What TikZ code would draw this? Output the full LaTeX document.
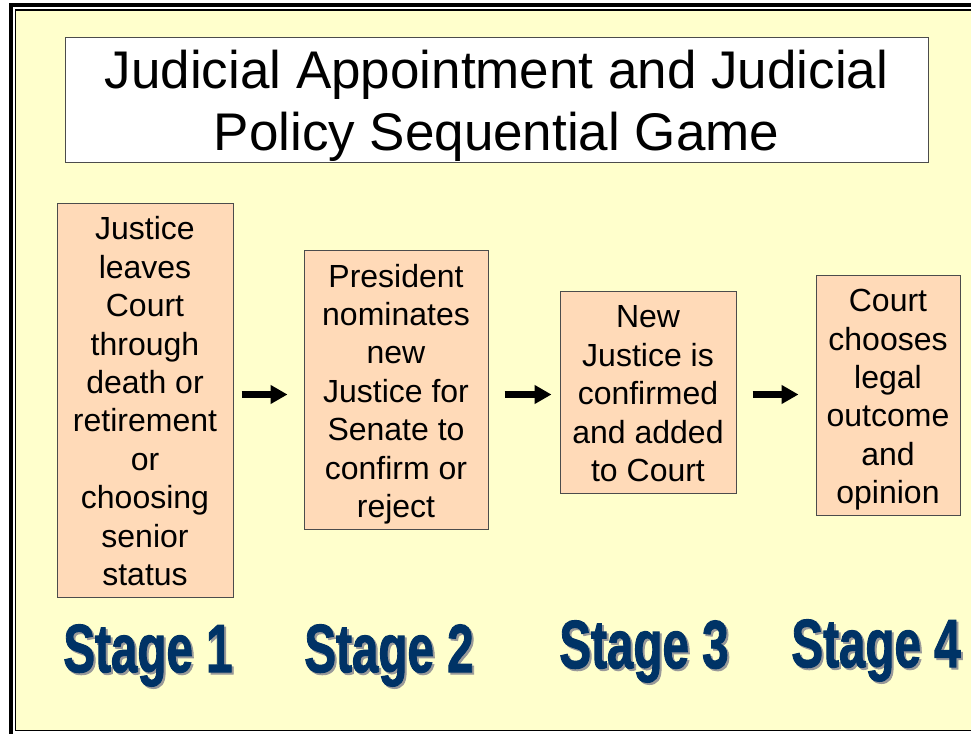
\documentclass[tikz,border=0pt]{standalone}
\usepackage{fontspec}
\setmainfont{Liberation Sans}
\newfontfamily\stagefont[BoldFeatures={FakeBold=1.8}]{Liberation Sans}
\usetikzlibrary{arrows.meta}

\definecolor{slidebg}{HTML}{FFFFCC}
\definecolor{peach}{HTML}{FFDAB8}
\definecolor{stagenavy}{HTML}{003366}

\newcommand\boxstrut{\rule[-7pt]{0pt}{39.5pt}}
\newcommand\titlestrut{\rule[-11.7pt]{0pt}{62pt}}

\begin{document}
\begin{tikzpicture}[x=1pt,y=-1pt,
		stepbox/.style={draw=black!70,fill=peach,line width=1pt,inner sep=0pt,align=center,
			font=\fontsize{32}{38.4}\selectfont},
		flow/.style={line width=6.5pt,-{Triangle[length=17pt,width=18pt]}},
		stagelabel/.style={anchor=base,xscale=0.7,font=\fontsize{68}{68}\selectfont\stagefont\bfseries}]
	\useasboundingbox (0,0) rectangle (971,733);
	\clip (0,0) rectangle (971,733);
	% slide frame
	\fill[white] (0,0) rectangle (971,733);
	\draw[line width=3.6pt] (11,5.3) rectangle (990,740);
	\draw[fill=slidebg,line width=1.6pt] (15.4,10.3) rectangle (985,730.6);
	% title
	\node[draw=black!70,fill=white,line width=1pt,minimum width=863pt,minimum height=120pt,
		inner sep=0pt,align=center,font=\fontsize{53}{62}\selectfont] (title) at (496.5,100)
		{\titlestrut Judicial Appointment and Judicial\\Policy Sequential Game\titlestrut};
	% the four stages
	\node[stepbox,minimum width=176pt,minimum height=394pt] (b1) at (145,400)
		{\boxstrut Justice\\leaves\\Court\\through\\death or\\retirement\\or\\choosing\\senior\\status\boxstrut};
	\node[stepbox,minimum width=184pt,minimum height=279pt] (b2) at (396,389.5)
		{\boxstrut President\\nominates\\new\\Justice for\\Senate to\\confirm or\\reject\boxstrut};
	\node[stepbox,minimum width=176pt,minimum height=202pt] (b3) at (648,392)
		{\boxstrut New\\Justice is\\confirmed\\and added\\to Court\boxstrut};
	\node[stepbox,minimum width=144pt,minimum height=240pt] (b4) at (888,395)
		{\boxstrut Court\\chooses\\legal\\outcome\\and\\opinion\boxstrut};
	\coordinate (mid) at (0,394.5);
	\draw[flow,shorten <=8pt,shorten >=16pt] (b1.east |- mid) -- (b2.west |- mid);
	\draw[flow,shorten <=16pt,shorten >=8pt] (b2.east |- mid) -- (b3.west |- mid);
	\draw[flow,shorten <=16pt,shorten >=17pt] (b3.east |- mid) -- (b4.west |- mid);
	\foreach \n/\x/\y in {1/148/672,2/389/672,3/644/668,4/876/667}{
		\node[stagelabel,text=black!40] at (\x+2,\y+2) {Stage \n};
		\node[stagelabel,text=stagenavy] (stage\n) at (\x,\y) {Stage \n};
	}
\end{tikzpicture}
\end{document}
